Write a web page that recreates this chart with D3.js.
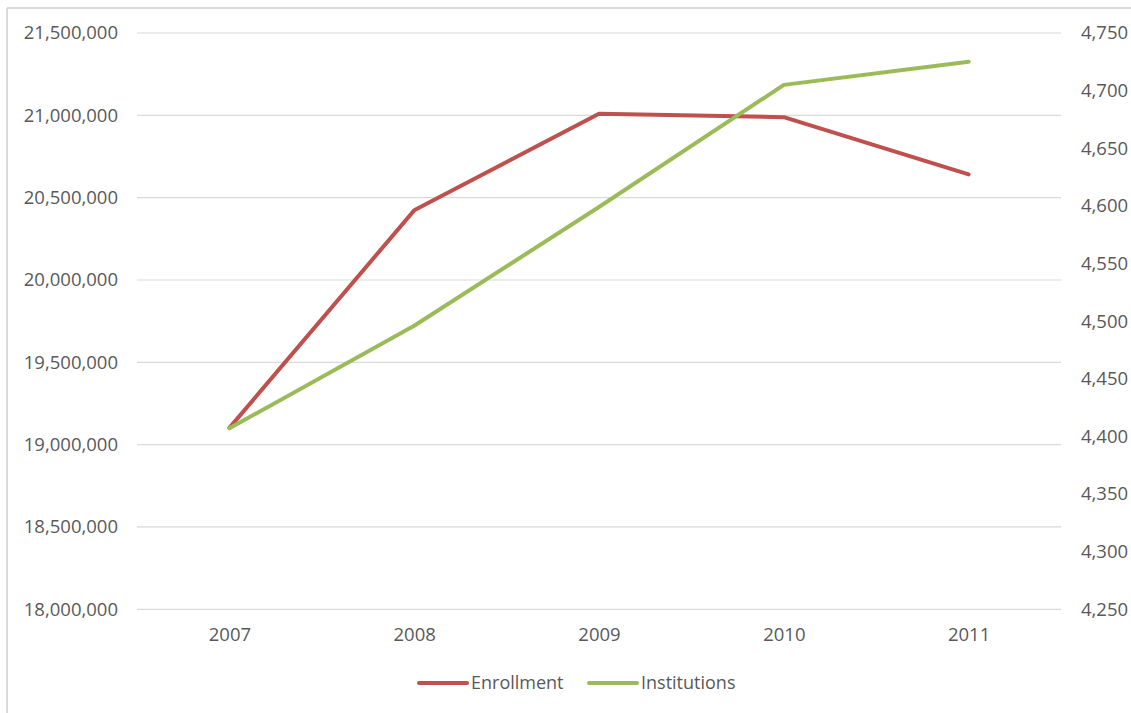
<!DOCTYPE html>
<html><head><meta charset="utf-8">
<script src="https://cdn.jsdelivr.net/npm/d3@7"></script>
<style>
html,body{margin:0;padding:0;background:#fff;}
svg{display:block;}
text{font-family:"Open Sans","Liberation Sans",sans-serif;fill:#595959;}
</style></head>
<body>
<svg id="chart" width="1131" height="713"></svg>
<script>
const years = ["2007","2008","2009","2010","2011"];
const enrollment = [19102000, 20423000, 21010000, 20989000, 20641000];
const institutions = [4407, 4496, 4599, 4705, 4725];
const leftTicks = [18000000,18500000,19000000,19500000,20000000,20500000,21000000,21500000];
const rightTicks = [4250,4300,4350,4400,4450,4500,4550,4600,4650,4700,4750];
const seriesNames = ["Enrollment","Institutions"];
const seriesColors = ["#C0504D","#9BBB59"];

const svg = d3.select("#chart");
const W = 1131, H = 713;
const plot = {left:137, right:1061, top:33, bottom:609.3};

// frame (left & top edges visible)
svg.append("line").attr("x1",7).attr("x2",7).attr("y1",8).attr("y2",H+5).attr("stroke","#d9d9d9").attr("stroke-width",2);
svg.append("line").attr("x1",7).attr("x2",W+5).attr("y1",8).attr("y2",8).attr("stroke","#d9d9d9").attr("stroke-width",2);

const x = d3.scalePoint().domain(years).range([plot.left, plot.right]).padding(0.5);
const yL = d3.scaleLinear().domain([18000000,21500000]).range([plot.bottom, plot.top]);
const yR = d3.scaleLinear().domain([4250,4750]).range([plot.bottom, plot.top]);
const fmt = d3.format(",");

// gridlines
svg.append("g").selectAll("line").data(leftTicks).join("line")
  .attr("x1",plot.left).attr("x2",plot.right)
  .attr("y1",d=>yL(d)).attr("y2",d=>yL(d))
  .attr("stroke","#d9d9d9").attr("stroke-width",1.2);

// left axis
const gl = svg.append("g").attr("transform",`translate(${plot.left},0)`)
  .call(d3.axisLeft(yL).tickValues(leftTicks).tickFormat(fmt).tickSize(0).tickPadding(19));
gl.select(".domain").remove();
gl.selectAll("text").style("font-size","18.5px").attr("fill","#595959");

// right axis
const gr = svg.append("g").attr("transform",`translate(${plot.right},0)`)
  .call(d3.axisRight(yR).tickValues(rightTicks).tickFormat(fmt).tickSize(0).tickPadding(20));
gr.select(".domain").remove();
gr.selectAll("text").style("font-size","18.5px").attr("fill","#595959");

// bottom axis
const gb = svg.append("g").attr("transform",`translate(0,${plot.bottom})`)
  .call(d3.axisBottom(x).tickSize(0).tickPadding(19));
gb.select(".domain").remove();
gb.selectAll("text").style("font-size","18.5px").attr("fill","#595959");

// lines
const lineL = d3.line().x((d,i)=>x(years[i])).y(d=>yL(d));
const lineR = d3.line().x((d,i)=>x(years[i])).y(d=>yR(d));
svg.append("path").datum(enrollment).attr("d",lineL).attr("fill","none")
  .attr("stroke",seriesColors[0]).attr("stroke-width",4).attr("stroke-linejoin","round").attr("stroke-linecap","round");
svg.append("path").datum(institutions).attr("d",lineR).attr("fill","none")
  .attr("stroke",seriesColors[1]).attr("stroke-width",4).attr("stroke-linejoin","round").attr("stroke-linecap","round");

// legend
const legendX = [419, 589];
const lg = svg.append("g");
seriesNames.forEach((n,i)=>{
  lg.append("line").attr("x1",legendX[i]).attr("x2",legendX[i]+48).attr("y1",683).attr("y2",683)
    .attr("stroke",seriesColors[i]).attr("stroke-width",4).attr("stroke-linecap","round");
  lg.append("text").attr("x",legendX[i]+52).attr("y",683).attr("dy","0.35em")
    .style("font-size","18px").text(n);
});
</script>
</body></html>
